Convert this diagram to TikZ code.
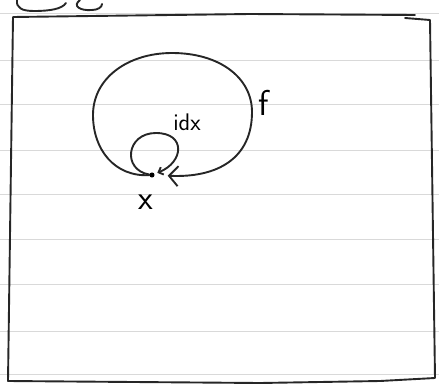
\documentclass[tikz,border=0pt]{standalone}
\usetikzlibrary{arrows.meta}

\begin{document}
\begin{tikzpicture}[x=1pt, y=-1pt, line cap=round, line join=round]
    \def\pageW{439}
    \tikzset{
        pen/.style={line width=1.9pt, black!85},
        ruled/.style={line width=0.8pt, black!15},
        hand/.style={font=\sffamily\fontsize{#1}{#1}\selectfont, inner sep=0pt}
    }

    \useasboundingbox (0,0) rectangle (\pageW,391);

    % notebook lines
    \foreach \y in {13,60,104,150,194,239,284,331,374}
        \draw[ruled] (0,\y) -- (\pageW,\y);

    % cut-off writing at the top
    \draw[pen] (17,0) .. controls (16,8) and (22,11) .. (34,11) .. controls (50,11) and (62,9) .. (66,3);
    \draw[pen] (80,0) .. controls (72,6) and (80,11) .. (92,10) .. controls (98,10) and (102,7) .. (102,4);

    % frame
    \draw[pen] (8,381) -- (13,17) -- (250,14) -- (415,15);
    \draw[pen] (405,18) -- (430,20) -- (435,378) -- (380,381) -- (260,383) -- (8,381);

    % the object and its arrows
    \node[circle, fill=black, inner sep=1.8pt] (x) at (152,175) {};
    \node[hand=34] (xlabel) at (146,202) {x};
    \node[hand=24] (idx) at (187,122) {idx};
    \node[hand=36] (f) at (264,103) {f};

    \draw[pen, -{Straight Barb[length=9pt, width=20pt]}, shorten >=13pt]
        (x) .. controls (115,177) and (93,150) .. (93,115)
            .. controls (93,78) and (128,53) .. (172,53)
            .. controls (220,53) and (252,78) .. (252,112)
            .. controls (252,158) and (218,178) .. (x);
    \draw[pen, -{Straight Barb[length=4pt, width=8pt]}, shorten >=3pt]
        (x) .. controls (122,170) and (126,133) .. (156,133)
            .. controls (186,133) and (184,162) .. (x);
\end{tikzpicture}
\end{document}
